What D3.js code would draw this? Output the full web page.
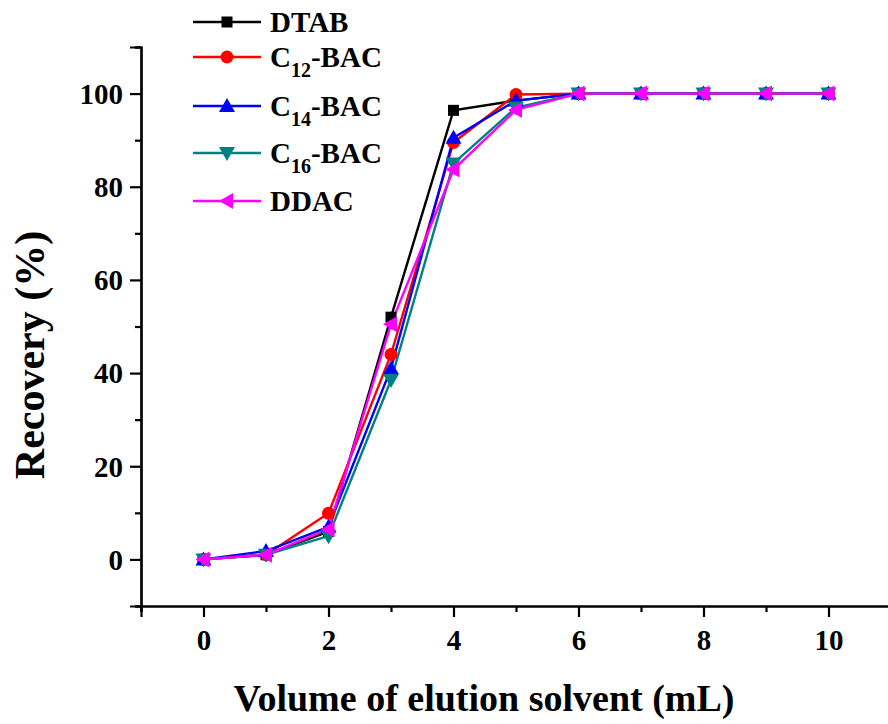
<!DOCTYPE html>
<html>
<head>
<meta charset="utf-8">
<script src="https://cdn.jsdelivr.net/npm/d3@7"></script>
<style>
body { margin: 0; background: #fff; }
text { font-family: "Liberation Serif", "Times New Roman", serif; font-weight: bold; }
</style>
</head>
<body>
<script>
var w = 888;
var h = 724;

// data
var volumes = [0, 1, 2, 3, 4, 5, 6, 7, 8, 9, 10];
var dtab  = [0, 1.0, 6.0, 52.0, 96.4, 98.5, 100, 100, 100, 100, 100];
var c12   = [0, 1.0, 9.9, 44.0, 89.5, 99.8, 100, 100, 100, 100, 100];
var c14   = [0, 1.8, 7.0, 41.0, 90.5, 98.5, 100, 100, 100, 100, 100];
var c16   = [0, 1.0, 5.0, 38.5, 85.0, 97.0, 100, 100, 100, 100, 100];
var ddac  = [0, 1.0, 6.5, 50.5, 83.7, 96.5, 100, 100, 100, 100, 100];

var xTicks = [0, 2, 4, 6, 8, 10];
var yTicks = [0, 20, 40, 60, 80, 100];

var series = [
  {name: "DTAB", sub: null, values: dtab, color: "#000000", symbol: "square"},
  {name: "C", sub: "12", values: c12, color: "#ff0000", symbol: "circle"},
  {name: "C", sub: "14", values: c14, color: "#0000ff", symbol: "up"},
  {name: "C", sub: "16", values: c16, color: "#008080", symbol: "down"},
  {name: "DDAC", sub: null, values: ddac, color: "#ff00ff", symbol: "left"}
];

var x = d3.scaleLinear().domain([-1, 11]).range([141, 891]);
var y = d3.scaleLinear().domain([-10, 110]).range([606, 47]);

var svg = d3.select("body").append("svg")
    .attr("width", w)
    .attr("height", h);

// draws a marker of the given kind centred on 0,0
function marker(g, kind, color) {
  if (kind == "square") {
    g.append("rect").attr("x", -5.5).attr("y", -5.5).attr("width", 11).attr("height", 11).attr("fill", color);
  } else if (kind == "circle") {
    g.append("circle").attr("r", 6.5).attr("fill", color);
  } else {
    var pts;
    if (kind == "up") pts = [[0, -8], [8, 6], [-8, 6]];
    if (kind == "down") pts = [[0, 8], [8, -6], [-8, -6]];
    if (kind == "left") pts = [[-8, 0], [6, -8], [6, 8]];
    g.append("polygon").attr("points", pts.map(function(p){ return p.join(","); }).join(" ")).attr("fill", color);
  }
}

// axes
var xAxis = d3.axisBottom(x).tickValues(xTicks).tickSize(11).tickPadding(12).tickFormat(d3.format("d"));
var xMinor = d3.axisBottom(x).tickValues([-1, 1, 3, 5, 7, 9, 11]).tickSize(6).tickFormat("");
var yAxis = d3.axisLeft(y).tickValues(yTicks).tickSize(11).tickPadding(7).tickFormat(d3.format("d"));
var yMinor = d3.axisLeft(y).tickValues([-10, 10, 30, 50, 70, 90, 110]).tickSize(6).tickFormat("");

var gx = svg.append("g").attr("transform", "translate(0," + y(-10) + ")").call(xAxis);
svg.append("g").attr("transform", "translate(0," + y(-10) + ")").call(xMinor);
var gy = svg.append("g").attr("transform", "translate(" + x(-1) + ",0)").call(yAxis);
svg.append("g").attr("transform", "translate(" + x(-1) + ",0)").call(yMinor);

svg.selectAll(".domain").attr("stroke", "#000").attr("stroke-width", 2.2);
svg.selectAll(".tick line").attr("stroke", "#000").attr("stroke-width", 2.2);
gx.selectAll(".tick text").attr("font-size", 29).attr("dy", "0.72em").attr("fill", "#000");
gy.selectAll(".tick text").attr("font-size", 29).attr("dy", "0.34em").attr("fill", "#000");

// lines and markers
var line = d3.line()
    .x(function(d, i){ return x(volumes[i]); })
    .y(function(d){ return y(d); });

series.forEach(function(s) {
  svg.append("path")
    .attr("d", line(s.values))
    .attr("fill", "none")
    .attr("stroke", s.color)
    .attr("stroke-width", 2.4);
});
series.forEach(function(s) {
  s.values.forEach(function(v, i) {
    var g = svg.append("g").attr("transform", "translate(" + x(volumes[i]) + "," + y(v) + ")");
    marker(g, s.symbol, s.color);
  });
});

// legend
var legendY = [22, 57, 106, 153, 201];
series.forEach(function(s, i) {
  var ly = legendY[i];
  svg.append("line").attr("x1", 193).attr("x2", 261).attr("y1", ly).attr("y2", ly)
    .attr("stroke", s.color).attr("stroke-width", 2.4);
  var g = svg.append("g").attr("transform", "translate(227," + ly + ")");
  marker(g, s.symbol, s.color);
  var t = svg.append("text").attr("x", 270).attr("y", ly + 10).attr("font-size", 29).attr("fill", "#000");
  if (s.sub) {
    t.append("tspan").text(s.name);
    t.append("tspan").attr("font-size", 20).attr("dy", 10).text(s.sub);
    t.append("tspan").attr("dy", -10).text("-BAC");
  } else {
    t.text(s.name);
  }
});

// axis titles
svg.append("text")
  .attr("transform", "translate(44,355) rotate(-90)")
  .attr("text-anchor", "middle")
  .attr("font-size", 42)
  .text("Recovery (%)");

svg.append("text")
  .attr("x", 484).attr("y", 711)
  .attr("text-anchor", "middle")
  .attr("font-size", 38)
  .text("Volume of elution solvent (mL)");
</script>
</body>
</html>
